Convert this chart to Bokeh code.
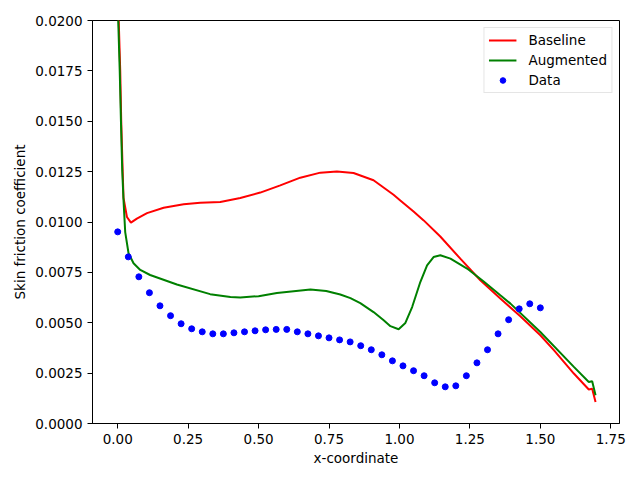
from bokeh.plotting import figure
from bokeh.models import Range1d, FixedTicker, PrintfTickFormatter
from bokeh.embed import file_html
from bokeh.resources import INLINE

# ---- data ----
baseline_x = [0.0000, 0.0036, 0.0089, 0.0124, 0.0170, 0.0206, 0.0327, 0.0469, 0.068, 0.104,
              0.163, 0.234, 0.293, 0.364, 0.435, 0.506, 0.577, 0.648, 0.719, 0.778,
              0.837, 0.908, 0.979, 1.003, 1.050, 1.086, 1.145, 1.216, 1.287, 1.358,
              1.429, 1.500, 1.548, 1.619, 1.672, 1.684, 1.696]
baseline_y = [0.0240, 0.0200, 0.01752, 0.01504, 0.01280, 0.01120, 0.01025, 0.00997, 0.01017, 0.01044,
              0.01071, 0.01088, 0.01096, 0.01099, 0.01119, 0.01146, 0.01182, 0.01220, 0.01245, 0.01251,
              0.01243, 0.01207, 0.01135, 0.01107, 0.01052, 0.01008, 0.00928, 0.00818, 0.00711, 0.00620,
              0.00532, 0.00438, 0.00364, 0.00248, 0.00169, 0.00172, 0.00107]

augmented_x = [0.0000, 0.0018, 0.0071, 0.0114, 0.0160, 0.0206, 0.0266, 0.0384, 0.0561, 0.080,
               0.115, 0.210, 0.328, 0.400, 0.435, 0.500, 0.565, 0.684, 0.740, 0.790, 0.826,
               0.861, 0.908, 0.944, 0.968, 0.997, 1.021, 1.045, 1.074, 1.098, 1.121,
               1.145, 1.181, 1.240, 1.299, 1.358, 1.394, 1.500, 1.619, 1.672, 1.684, 1.696]
augmented_y = [0.0240, 0.0200, 0.01752, 0.01504, 0.01256, 0.01107, 0.00950, 0.00845, 0.00795, 0.00762,
               0.00737, 0.00690, 0.00642, 0.00628, 0.00625, 0.00632, 0.00648, 0.00665, 0.00658, 0.00640, 0.00622,
               0.00597, 0.00553, 0.00512, 0.00483, 0.00468, 0.00499, 0.00578, 0.00702, 0.00785, 0.00826,
               0.00835, 0.00818, 0.00769, 0.00705, 0.00636, 0.00595, 0.00454, 0.00281, 0.00206, 0.00210, 0.00140]

data_x = [0.0, 0.0375, 0.075, 0.1125, 0.15, 0.1875, 0.225, 0.2625, 0.3, 0.3375,
          0.375, 0.4125, 0.45, 0.4875, 0.525, 0.5625, 0.6, 0.6375, 0.675, 0.7125,
          0.75, 0.7875, 0.825, 0.8625, 0.9, 0.9375, 0.975, 1.0125, 1.05, 1.0875,
          1.125, 1.1625, 1.2, 1.2375, 1.275, 1.3125, 1.35, 1.3875, 1.425, 1.4625, 1.5]
data_y = [0.00951, 0.00827, 0.00728, 0.00649, 0.00584, 0.00535, 0.00495, 0.00470, 0.00455, 0.00445,
          0.00445, 0.00450, 0.00455, 0.00460, 0.00465, 0.00467, 0.00467, 0.00455, 0.00445, 0.00435,
          0.00425, 0.00415, 0.00405, 0.00386, 0.00366, 0.00341, 0.00311, 0.00286, 0.00262, 0.00237,
          0.00202, 0.00182, 0.00187, 0.00237, 0.00301, 0.00366, 0.00445, 0.00515, 0.00569, 0.00594, 0.00574]

x_ticks = [0.0, 0.25, 0.5, 0.75, 1.0, 1.25, 1.5, 1.75]
y_ticks = [0.0, 0.0025, 0.005, 0.0075, 0.01, 0.0125, 0.015, 0.0175, 0.02]

FONT = "DejaVu Sans"
FS = "13.5px"

p = figure(width=632, height=472, output_backend="svg", toolbar_location=None,
           x_range=Range1d(-0.0895, 1.781), y_range=Range1d(0, 0.02),
           min_border_left=92, min_border_right=13, min_border_top=20, min_border_bottom=49)

p.line(baseline_x, baseline_y, line_color="red", line_width=2, legend_label="Baseline")
p.line(augmented_x, augmented_y, line_color="green", line_width=2, legend_label="Augmented")
p.scatter(data_x, data_y, size=6, fill_color="blue", line_color="blue", legend_label="Data")

p.grid.visible = False
p.outline_line_color = "black"
p.outline_line_width = 1
p.background_fill_color = "white"
p.border_fill_color = "white"

for ax in (p.xaxis[0], p.yaxis[0]):
    ax.axis_line_color = "black"
    ax.major_tick_line_color = "black"
    ax.major_tick_out = 5
    ax.major_tick_in = 0
    ax.minor_tick_line_color = None
    ax.major_label_text_font = FONT
    ax.major_label_text_font_size = FS
    ax.major_label_text_color = "black"
    ax.axis_label_text_font = FONT
    ax.axis_label_text_font_size = FS
    ax.axis_label_text_font_style = "normal"
    ax.axis_label_text_color = "black"
    ax.major_label_standoff = 5

p.xaxis.ticker = FixedTicker(ticks=x_ticks)
p.yaxis.ticker = FixedTicker(ticks=y_ticks)
p.xaxis.formatter = PrintfTickFormatter(format="%.2f")
p.yaxis.formatter = PrintfTickFormatter(format="%.4f")
p.xaxis.axis_label = "x-coordinate"
p.yaxis.axis_label = "Skin friction coefficient"
p.xaxis.axis_label_standoff = 3
p.yaxis.axis_label_standoff = 4

lg = p.legend[0]
lg.location = "top_right"
lg.margin = 7
lg.padding = 4
lg.spacing = 4
lg.glyph_width = 28
lg.glyph_height = 14
lg.label_height = 14
lg.label_standoff = 12
lg.label_text_font = FONT
lg.label_text_font_size = FS
lg.label_text_color = "black"
lg.border_line_color = "#cccccc"
lg.border_line_width = 1
lg.background_fill_alpha = 0.8

open("out.html", "w").write(file_html(p, INLINE))
